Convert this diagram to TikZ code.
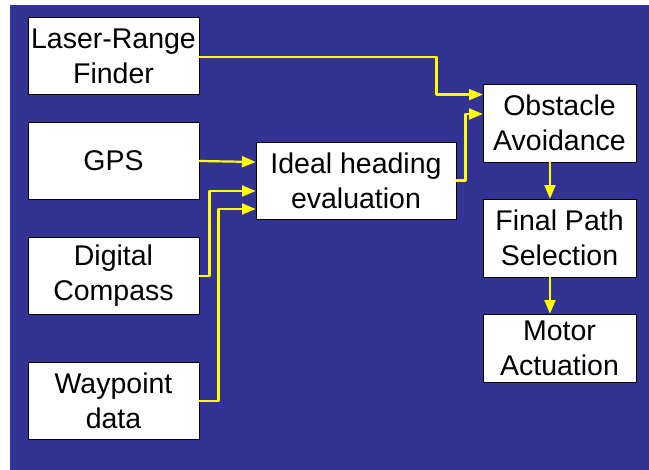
\documentclass[tikz,border=0pt]{standalone}
\usepackage{fontspec}
\setmainfont{Liberation Sans}
\usepackage{pgf,tikz}
\usetikzlibrary{arrows}

\definecolor{bgblue}{RGB}{51,51,147}
\definecolor{linkyellow}{RGB}{255,255,0}

\tikzset{
    box/.style={draw=black, line width=0.8pt, fill=white, align=center, inner sep=0pt,
        minimum width=171, minimum height=77, font=\fontsize{28.5}{35}\selectfont},
    link/.style={->, draw=linkyellow, line width=2.2pt}
}

\begin{document}
\begin{tikzpicture}[thick, line cap=round, line join=round, >=triangle 45, x=1pt, y=1pt]
    \useasboundingbox (0,0) rectangle (649,470);
    \fill[white] (0,0) rectangle (649,470);
    \fill[bgblue] (10,0) rectangle (649,465);
    \draw(113.5,414) node[box] (n0) {Laser-Range\\Finder};
    \draw(113.5,309) node[box] (n1) {GPS};
    \draw(113.5,194) node[box] (n2) {Digital\\Compass};
    \draw(113.5,69) node[box] (n3) {Waypoint\\data};
    \draw(356,289.5) node[box, minimum width=200] (n4) {Ideal heading\\evaluation};
    \draw(559.5,347) node[box, minimum width=153, minimum height=78] (n5) {Obstacle\\Avoidance};
    \draw(559.5,232) node[box, minimum width=153, minimum height=78] (n6) {Final Path\\Selection};
    \draw(559.5,122) node[box, minimum width=153, minimum height=68] (n7) {Motor\\Actuation};
    % sensor inputs
    \draw[link] (n1.east) -- ([yshift=18.5]n4.west);
    \draw[link] (n2.east) -- ++(10,0) |- ([yshift=-10.5]n4.west);
    \draw[link] (n3.east) -- ++(19,0) |- ([yshift=-28.5]n4.west);
    % into obstacle avoidance
    \draw[link] ([yshift=-1]n0.east) -- ++(237,0) |- ([yshift=-11]n5.north west);
    \draw[link] (n4.east) -- ++(9,0) |- ([yshift=9]n5.west);
    % output chain
    \draw[link] (n5.south -| 550,0) -- (n6.north -| 550,0);
    \draw[link] (n6.south -| 550,0) -- (n7.north -| 550,0);
\end{tikzpicture}
\end{document}
